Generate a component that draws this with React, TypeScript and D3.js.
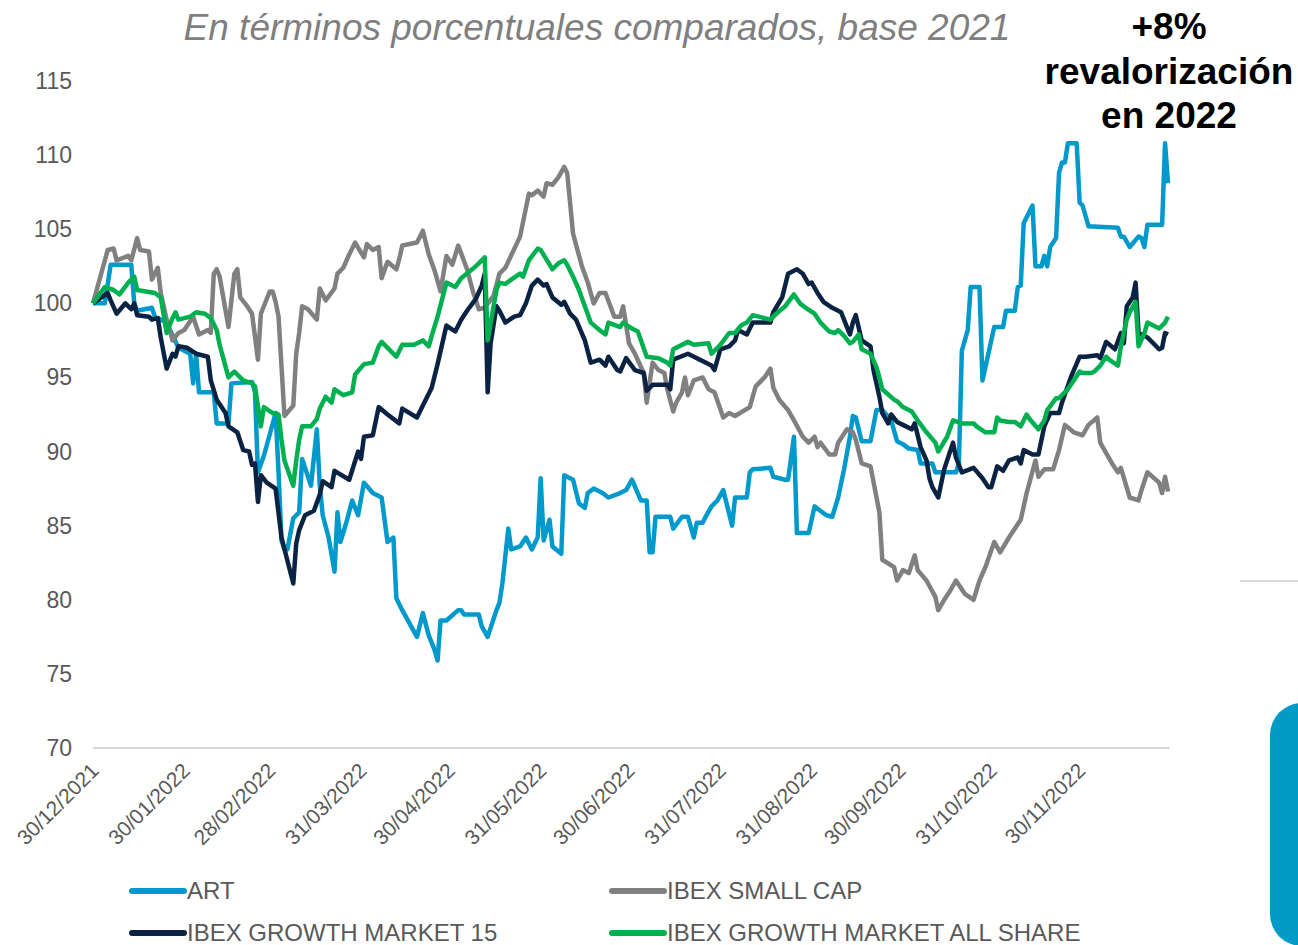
import React from 'react';
import * as d3 from 'd3';

// Base date of the index (30/12/2021 = 100)
const startDate = new Date(2021, 11, 30);
const endDate = new Date(2022, 11, 30);

// [days since 30/12/2021, index value]
const artPoints: [number, number][] = [
  [0, 100], [4, 100], [6, 102.6], [13, 102.6], [14, 100], [15, 99.5], [20, 99.7], [21, 99.1], [25, 98.7],
  [29, 97], [33, 96.6], [34, 94.6], [35, 96.6], [36, 94], [41, 94], [42, 91.9], [46, 91.9], [47, 94.6],
  [54, 94.7], [55, 94], [56, 88.6], [58, 89.7], [62, 92.6], [63, 88.6], [64, 84], [65, 83.4], [66, 83.4],
  [68, 85.5], [70, 85.9], [71, 89.5], [74, 87.7], [76, 91.5], [77, 87.7], [78, 85.7], [80, 84.2], [82, 81.9],
  [83, 85.9], [84, 83.9], [86, 85.2], [88, 86.7], [90, 85.7], [92, 87.9], [95, 87.2], [98, 86.9], [100, 83.9],
  [102, 84.2], [103, 80.1], [105, 79.3], [110, 77.5], [112, 79.1], [114, 77.6], [116, 76.6], [117, 75.9],
  [118, 78.6], [120, 78.6], [124, 79.3], [125, 79.3], [126, 79], [131, 79], [132, 78.2], [134, 77.5],
  [137, 79.3], [138, 79.8], [139, 81.1], [141, 84.8], [142, 83.4], [145, 83.6], [147, 84.2], [149, 83.4],
  [151, 84.2], [152, 88.2], [153, 84], [155, 85.4], [156, 83.6], [159, 83.1], [160, 88.4], [163, 88.1],
  [165, 86.5], [167, 86.2], [168, 87.2], [170, 87.5], [173, 87.2], [175, 86.9], [179, 87.2], [181, 87.4],
  [183, 88.1], [186, 86.7], [188, 86.7], [189, 83.2], [190, 83.2], [191, 85.6], [196, 85.6], [197, 84.8],
  [200, 85.6], [202, 85.6], [204, 84.2], [205, 85.2], [207, 85.2], [208, 85.6], [210, 86.3], [212, 86.7],
  [214, 87.4], [217, 85], [218, 86.9], [222, 86.9], [223, 88.6], [224, 88.8], [230, 88.9], [231, 88.3],
  [235, 88.1], [236, 88.1], [238, 91], [239, 84.5], [243, 84.5], [245, 86.3], [249, 85.7], [251, 85.6],
  [253, 86.9], [255, 88.8], [257, 91], [258, 92.4], [259, 92.3], [261, 90.7], [264, 90.7], [266, 92.8],
  [268, 92.8], [271, 92.1], [273, 90.7], [275, 90.5], [277, 90.2], [280, 90.1], [281, 89.2], [285, 89.2],
  [286, 88.6], [293, 88.6], [294, 89.2], [295, 96.8], [297, 98.2], [298, 101.1], [301, 101.1], [302, 94.8],
  [306, 98.4], [309, 98.4], [310, 99.5], [313, 99.5], [314, 101.1], [315, 101.2], [316, 105.4], [317, 105.8],
  [319, 106.6], [320, 102.5], [322, 102.5], [323, 103.2], [324, 102.5], [325, 103.8], [327, 104.4],
  [328, 108.8], [329, 109.5], [330, 109.5], [331, 110.8], [334, 110.8], [335, 106.8], [336, 106.6],
  [338, 105.2], [348, 105.1], [349, 104.5], [350, 104.5], [352, 103.8], [355, 104.5], [356, 104.4],
  [357, 103.8], [358, 105.3], [363, 105.3], [364, 110.8], [365, 108.1],
];

const smallCapPoints: [number, number][] = [
  [0, 100], [5, 103.6], [7, 103.7], [8, 102.9], [12, 103.2], [13, 102.9], [15, 104.4], [16, 103.6],
  [19, 103.5], [20, 101.6], [22, 102.4], [23, 100.7], [25, 98.9], [27, 97.5], [29, 98], [31, 98.2],
  [34, 99.1], [36, 97.9], [39, 98.2], [40, 98], [41, 102], [42, 102.3], [43, 101.8], [46, 98.4], [48, 102],
  [49, 102.3], [50, 100.4], [52, 99.9], [54, 99.3], [56, 96.2], [57, 99.3], [60, 100.8], [61, 100.8],
  [62, 100.1], [63, 99.1], [65, 92.4], [68, 93.1], [69, 96.6], [70, 98], [71, 99.8], [73, 99.6], [76, 98.9],
  [77, 101], [79, 100.2], [82, 101], [83, 102], [85, 102.4], [87, 103.3], [89, 104.1], [92, 103.1],
  [93, 104], [95, 103.6], [97, 103.8], [98, 101.7], [100, 102.8], [103, 102.3], [104, 103], [105, 103.9],
  [110, 104.1], [112, 104.9], [114, 103.3], [116, 102.2], [118, 100.8], [120, 103.2], [122, 102.6],
  [124, 103.9], [127, 102.3], [129, 100.8], [131, 99.6], [133, 99.7], [136, 100.5], [138, 102], [140, 102.4],
  [145, 104.5], [148, 107.4], [149, 107.3], [151, 107.6], [153, 107.2], [154, 108.1], [156, 108],
  [158, 108.5], [160, 109.2], [161, 108.8], [163, 104.7], [166, 102.5], [168, 101.4], [170, 100],
  [172, 100.7], [174, 100.7], [177, 99.1], [179, 99.1], [180, 99.8], [182, 97.3], [184, 96.6], [187, 95.3],
  [188, 93.3], [190, 96], [192, 95.5], [194, 95.3], [195, 94.2], [197, 92.7], [198, 93.3], [200, 94],
  [201, 95], [202, 93.8], [204, 94.8], [207, 95], [209, 94.2], [211, 94], [214, 92.3], [216, 92.6],
  [218, 92.4], [223, 93], [225, 94.4], [228, 95], [230, 95.6], [231, 94.3], [233, 93.5], [236, 92.8],
  [238, 92.1], [241, 91], [243, 90.6], [245, 91], [246, 90.3], [247, 90.6], [250, 89.8], [252, 89.8],
  [253, 90.6], [256, 91.5], [258, 91.3], [259, 90.8], [261, 89.2], [264, 89], [267, 85.9], [268, 82.7],
  [272, 82.2], [273, 81.3], [275, 82], [277, 81.8], [279, 83], [280, 82], [283, 81.3], [286, 80.2],
  [287, 79.3], [289, 80], [291, 80.6], [293, 81.3], [296, 80.4], [299, 80], [301, 81.3], [303, 82.2],
  [306, 83.9], [308, 83.2], [311, 84.2], [315, 85.4], [317, 87.2], [320, 89.4], [321, 88.3], [323, 88.8],
  [326, 88.8], [328, 90.1], [330, 91.8], [333, 91.3], [336, 91.1], [338, 91.8], [341, 92.3], [342, 90.6],
  [344, 89.9], [346, 89.2], [348, 88.6], [349, 88.9], [352, 86.9], [355, 86.7], [356, 87.4], [358, 88.6],
  [362, 87.9], [363, 87.2], [364, 88.3], [365, 87.3],
];

const gm15Points: [number, number][] = [
  [0, 100], [5, 100.7], [6, 100.2], [8, 99.3], [11, 100], [13, 99.6], [14, 100], [15, 99.2], [19, 99.1],
  [20, 98.9], [22, 99], [23, 97.7], [25, 95.6], [27, 96.6], [28, 96.4], [29, 97.1], [32, 97], [35, 96.6],
  [39, 96.4], [40, 94.8], [42, 93.5], [45, 92.6], [46, 91.7], [49, 91.3], [51, 90.1], [53, 90], [54, 89.1],
  [55, 89.2], [56, 86.6], [57, 88.4], [59, 87.9], [62, 87.5], [64, 84.2], [68, 81.1], [69, 83.8], [70, 84.7],
  [72, 85.7], [75, 86], [77, 87.1], [78, 88], [81, 87.6], [82, 88.7], [87, 88.1], [90, 90], [91, 89.5],
  [92, 91], [95, 91.1], [97, 93], [100, 92.5], [104, 91.9], [105, 92.9], [110, 92.3], [112, 93.1],
  [115, 94.3], [117, 95.9], [120, 98.5], [123, 98.1], [125, 98.9], [127, 99.5], [130, 100.3], [132, 101.2],
  [133, 102], [134, 94], [135, 97.3], [137, 99.8], [138, 99.5], [140, 98.7], [143, 99.1], [145, 99.2],
  [147, 100], [149, 101.2], [151, 101.6], [153, 101.2], [154, 101.3], [156, 100.4], [159, 99.9],
  [160, 100.1], [162, 99.3], [164, 98.9], [167, 97.5], [169, 96], [172, 96.2], [174, 95.8], [175, 96.4],
  [178, 95.5], [179, 95.4], [181, 96.3], [184, 95.5], [187, 95.3], [188, 94.1], [190, 94.5], [195, 94.5],
  [196, 94.2], [197, 96.2], [202, 96.6], [210, 95.8], [211, 95.5], [213, 96.9], [216, 97.1], [218, 97.5],
  [219, 98.2], [222, 97.9], [224, 98.7], [230, 98.7], [231, 99.4], [234, 100.4], [236, 102], [239, 102.3],
  [241, 102], [243, 101.3], [244, 101.4], [246, 100.7], [248, 100.1], [251, 99.7], [254, 99.4], [256, 98.4],
  [257, 97.9], [258, 98.7], [259, 99.2], [261, 97.5], [264, 97.1], [265, 95.5], [267, 93.7], [268, 92.6],
  [270, 91.9], [271, 92.5], [273, 92], [275, 91.8], [278, 91.5], [279, 91.9], [281, 90.3], [283, 89.4],
  [284, 88.2], [285, 87.6], [287, 86.9], [289, 88.8], [292, 90.6], [293, 89.6], [295, 88.6], [299, 88.9],
  [302, 88.2], [304, 87.6], [305, 87.6], [307, 89], [309, 88.7], [311, 89.4], [314, 89.6], [315, 89.2],
  [316, 90.1], [319, 89.8], [321, 89.8], [323, 91.7], [325, 92.6], [328, 92.6], [329, 93.3], [332, 95],
  [335, 96.4], [337, 96.4], [341, 96.5], [342, 96.3], [344, 97.4], [347, 96.9], [349, 98], [350, 97.3],
  [351, 99.8], [353, 100.4], [354, 101.4], [355, 98], [358, 97.7], [362, 96.9], [363, 97], [364, 98],
  [365, 97.9],
];

const allSharePoints: [number, number][] = [
  [0, 100], [4, 101.1], [7, 100.9], [9, 100.6], [12, 101.4], [14, 101.8], [15, 100.9], [18, 100.8],
  [21, 100.7], [23, 100.4], [25, 98], [27, 99], [28, 99.4], [29, 98.9], [33, 99.1], [35, 99.4], [38, 99.3],
  [40, 99], [42, 98.2], [43, 97.2], [46, 95], [48, 95.4], [49, 95.2], [51, 94.8], [54, 94.6], [55, 94.4],
  [57, 91.7], [58, 93], [61, 92.6], [63, 92.5], [64, 90.8], [65, 89.4], [68, 87.7], [69, 89.4], [70, 90.8],
  [71, 91.7], [74, 91.7], [76, 92.2], [77, 92.9], [79, 93.7], [81, 93.3], [82, 94.2], [85, 93.8], [88, 94],
  [89, 95.2], [92, 95.9], [95, 96], [97, 97.1], [98, 97.4], [103, 96.4], [105, 97.2], [109, 97.2],
  [112, 97.5], [114, 97.1], [115, 97.8], [117, 99.1], [120, 101.4], [123, 101.1], [125, 101.7],
  [130, 102.5], [133, 103.1], [134, 97.5], [136, 99.8], [137, 100.9], [138, 101.4], [140, 101.3],
  [142, 101.6], [145, 102], [146, 101.8], [148, 102.9], [151, 103.7], [152, 103.6], [156, 102.3],
  [158, 102.7], [160, 102.9], [161, 102.6], [163, 101.8], [165, 100.9], [167, 99.8], [169, 98.7],
  [172, 98.2], [174, 97.9], [175, 98.7], [179, 98.4], [180, 98.7], [183, 98.3], [185, 98.1], [188, 96.4],
  [192, 96.3], [195, 96], [196, 95.8], [197, 96.9], [202, 97.4], [204, 97.2], [209, 97.3], [210, 96.6],
  [213, 97.2], [216, 98], [218, 98], [220, 98.5], [222, 98.7], [224, 99.2], [230, 98.9], [232, 99.3],
  [235, 99.8], [238, 100.6], [240, 100], [242, 99.7], [245, 99.3], [247, 98.7], [250, 98.1], [252, 98],
  [253, 98.2], [255, 97.8], [257, 97.3], [258, 97.4], [260, 97.9], [261, 96.9], [264, 96.6], [266, 95.7],
  [267, 95], [268, 94.2], [272, 93.5], [273, 93.4], [275, 93], [278, 92.7], [280, 92.1], [283, 91.3],
  [286, 90.6], [287, 90], [290, 91], [292, 92.1], [295, 91.9], [299, 91.9], [300, 91.7], [303, 91.3],
  [306, 91.3], [307, 92.3], [308, 92.1], [311, 92], [313, 92], [315, 91.7], [317, 92.5], [318, 92.2],
  [321, 91.5], [323, 92.1], [324, 92.8], [327, 93.6], [328, 93.6], [331, 94.2], [335, 95.4], [336, 95.3],
  [339, 95.3], [340, 95.4], [342, 95.8], [344, 96.4], [345, 96.2], [348, 95.8], [349, 97.1], [351, 98.9],
  [352, 99.4], [354, 100.1], [355, 97.1], [357, 98], [358, 98.7], [362, 98.3], [364, 98.7], [365, 99.1],
];

const yTicks = [70, 75, 80, 85, 90, 95, 100, 105, 110, 115];
const xTickLabels = [
  '30/12/2021', '30/01/2022', '28/02/2022', '31/03/2022', '30/04/2022', '31/05/2022',
  '30/06/2022', '31/07/2022', '31/08/2022', '30/09/2022', '31/10/2022', '30/11/2022',
];

const seriesNames = ['ART', 'IBEX SMALL CAP', 'IBEX GROWTH MARKET 15', 'IBEX GROWTH MARKET ALL SHARE'];
const seriesColors = ['#0099CC', '#808080', '#0A2342', '#00B050'];
const seriesData = [artPoints, smallCapPoints, gm15Points, allSharePoints];

const FONT = '"Liberation Sans", Arial, sans-serif';

export default function App() {
  const x = d3.scaleTime().domain([startDate, endDate]).range([93, 1168]);
  const y = d3.scaleLinear().domain([70, 115]).range([748, 81]);
  const parse = d3.timeParse('%d/%m/%Y');

  const line = d3
    .line<[number, number]>()
    .x(d => x(d3.timeDay.offset(startDate, d[0])))
    .y(d => y(d[1]));

  // legend slots: two columns, two rows
  const legendPos = [
    [130, 891],
    [610, 891],
    [130, 933],
    [610, 933],
  ];

  return (
    <svg
      width={1298}
      height={945}
      style={{ position: 'absolute', left: 0, top: 0, display: 'block', background: '#fff' }}
      fontFamily={FONT}
    >
      <text x={597} y={40} textAnchor="middle" fontSize={37} fontStyle="italic" fill="#7f7f7f">
        En términos porcentuales comparados, base 2021
      </text>

      <g fontWeight="bold" fontSize={37} fill="#000" textAnchor="middle">
        <text x={1169} y={39}>+8%</text>
        <text x={1169} y={84}>revalorización</text>
        <text x={1169} y={128}>en 2022</text>
      </g>

      {yTicks.map(t => (
        <text key={t} x={72} y={y(t) + 8} textAnchor="end" fontSize={23} fill="#595959">
          {t}
        </text>
      ))}

      <line x1={93} x2={1170} y1={y(70)} y2={y(70)} stroke="#d9d9d9" strokeWidth={2} />

      {xTickLabels.map(lbl => {
        const tx = x(parse(lbl) as Date) + 7;
        const ty = 772;
        return (
          <text
            key={lbl}
            x={tx}
            y={ty}
            textAnchor="end"
            fontSize={21}
            fill="#595959"
            transform={`rotate(-45, ${tx}, ${ty})`}
          >
            {lbl}
          </text>
        );
      })}

      {seriesData.map((pts, i) => (
        <path
          key={seriesNames[i]}
          d={line(pts) || ''}
          fill="none"
          stroke={seriesColors[i]}
          strokeWidth={4.5}
          strokeLinejoin="round"
        />
      ))}

      {seriesNames.map((name, i) => (
        <g key={name} transform={`translate(${legendPos[i][0]},${legendPos[i][1]})`}>
          <line x1={2} x2={54} y1={0} y2={0} stroke={seriesColors[i]} strokeWidth={6} strokeLinecap="round" />
          <text x={57} y={8} fontSize={24} fill="#595959">
            {name}
          </text>
        </g>
      ))}

      <line x1={1240} x2={1298} y1={581} y2={581} stroke="#dcdcdc" strokeWidth={2} />
      <rect x={1270} y={703} width={80} height={243} rx={32} fill="#009BC7" />
    </svg>
  );
}
